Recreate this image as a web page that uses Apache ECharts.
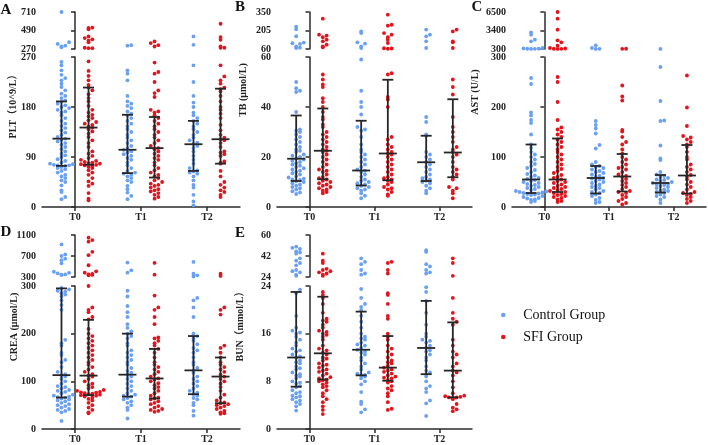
<!DOCTYPE html>
<html><head><meta charset="utf-8">
<script src="https://cdn.jsdelivr.net/npm/echarts@6/dist/echarts.min.js"></script>
<style>html,body{margin:0;padding:0;background:#fff}#c{width:708px;height:445px}</style>
</head><body><div id="c"></div>
<script>
// ---------------- DATA ----------------
const categories = ['T0', 'T1', 'T2'];
const groupNames = ['Control Group', 'SFI Group'];

// A: PLT
const PLT_lowTicks = [0, 90, 180, 270];
const PLT_upTicks = [270, 490, 710];
const PLT_ctrl_T0 = [14, 18, 27, 30, 39, 45, 48, 52, 55, 58, 62, 65, 68, 70, 72, 74, 75, 75, 76, 77, 78, 80, 83, 86, 90, 93, 96, 100, 104, 108, 112, 115, 118, 121, 123, 126, 130, 134, 138, 142, 146, 150, 155, 160, 165, 170, 172, 175, 178, 180, 183, 186, 190, 192, 196, 200, 204, 210, 216, 222, 228, 232, 238, 246, 255, 261, 290, 300, 310, 330, 350, 710];
const PLT_sfi_T0 = [12, 15, 25, 38, 42, 46, 52, 58, 62, 66, 70, 72, 74, 75, 76, 77, 78, 79, 80, 81, 83, 85, 88, 92, 96, 100, 108, 115, 120, 126, 132, 136, 140, 143, 145, 148, 150, 153, 156, 160, 163, 166, 170, 175, 182, 190, 196, 203, 210, 215, 220, 228, 236, 245, 262, 280, 280, 285, 350, 370, 385, 400, 420, 505, 520, 525];
const PLT_ctrl_T1 = [14, 20, 26, 32, 38, 45, 48, 52, 55, 58, 60, 62, 65, 70, 75, 80, 85, 88, 92, 95, 98, 100, 103, 106, 110, 115, 120, 125, 130, 135, 140, 145, 150, 155, 160, 165, 168, 172, 178, 182, 186, 190, 200, 228, 240, 246, 310, 315];
const PLT_sfi_T1 = [15, 18, 22, 25, 28, 30, 32, 35, 38, 40, 42, 45, 48, 52, 55, 58, 62, 66, 70, 75, 80, 85, 88, 92, 96, 100, 104, 106, 110, 115, 120, 125, 130, 135, 140, 145, 150, 155, 160, 165, 170, 172, 175, 198, 205, 210, 225, 240, 243, 260, 300, 315, 340, 360];
const PLT_ctrl_T2 = [3, 10, 22, 35, 40, 48, 55, 60, 62, 64, 66, 70, 78, 85, 92, 100, 106, 110, 113, 116, 120, 125, 130, 135, 140, 145, 150, 155, 160, 165, 170, 180, 188, 200, 225, 255, 320, 420];
const PLT_sfi_T2 = [18, 22, 27, 30, 35, 40, 45, 55, 65, 78, 80, 82, 92, 95, 98, 100, 108, 115, 120, 122, 125, 130, 138, 148, 160, 168, 175, 180, 190, 200, 208, 212, 215, 222, 228, 235, 255, 285, 285, 300, 380, 412, 570];
const PLT_ctrl_stats = [[74, 123, 190], [61, 103, 166], [65, 113, 155]];   // [Q1, median, Q3]
const PLT_sfi_stats = [[76, 143, 215], [53, 106, 162], [78, 122, 213]];

// B: TB
const TB_lowTicks = [0, 20, 40, 60];
const TB_upTicks = [60, 205, 350];
const TB_ctrl_T0 = [5.2, 5.8, 6.3, 7, 7.5, 8, 8.5, 9, 9.5, 10, 10.3, 10.8, 11, 11.3, 11.8, 12.3, 13, 13.5, 14, 14.5, 15, 15.5, 16, 16.5, 17, 17.5, 18, 18.5, 19, 19.5, 20, 20.5, 21, 22, 22.5, 23, 24, 25, 26, 27, 28, 29, 30, 30.5, 31, 38, 46, 46.5, 47.5, 50, 68, 70, 80, 100, 105, 110, 160, 215, 235];
const TB_sfi_T0 = [5.5, 6, 6.5, 7, 7.5, 8, 8.5, 9, 9.5, 10, 10.5, 11, 11.5, 12, 13, 14, 14.5, 15, 16, 17, 18, 19, 20, 21, 22, 22.5, 23, 24, 25, 26, 27, 28, 29, 30, 32, 33, 35, 36, 38, 40, 42, 43.5, 48, 49, 51, 53, 73, 81, 94, 120, 133, 152, 165, 172, 298];
const TB_ctrl_T1 = [3.5, 4.5, 5.5, 6.5, 7, 7.5, 8, 8.5, 9, 9.5, 10, 10.5, 11, 12, 13, 14, 14.5, 15, 16, 17, 18, 19, 20, 21, 22, 23, 25, 28, 30.5, 31, 32, 37, 40, 42, 46.5, 59, 68, 81, 102, 112, 185, 198];
const TB_sfi_T1 = [4.5, 5, 6, 7, 7.5, 8, 9, 10, 10.5, 11, 11.5, 12, 13, 14, 15, 16, 17, 18, 19, 20, 21, 21.5, 22, 23, 24, 25, 27, 28, 40, 43, 44, 53, 53.5, 62, 64, 66, 107, 133, 152, 172, 185, 243, 250, 329];
const TB_ctrl_T2 = [5.5, 6.5, 7.5, 8.5, 9.5, 10, 10.5, 11, 11.5, 12, 13, 14, 15, 16, 17, 18, 19, 20, 21, 22, 28.5, 29, 34, 36, 68, 120, 159, 172, 212];
const TB_sfi_T2 = [3.5, 5.5, 6.5, 7.5, 8, 11, 12, 13, 14, 15, 16, 18, 20, 21, 22, 23, 24, 26, 28, 30, 32, 36, 45, 48, 51, 68, 112, 120, 198, 212];
const TB_ctrl_stats = [[10.4, 19.3, 36.6], [8.6, 14.6, 34.5], [10.4, 17.9, 28.5]];
const TB_sfi_stats = [[11.1, 22.5, 39.4], [10.7, 21.4, 50.9], [11.9, 21.8, 43.1]];

// C: AST
const AST_lowTicks = [0, 100, 200, 300];
const AST_upTicks = [300, 3400, 6500];
const AST_ctrl_T0 = [10, 12, 14, 15, 17, 18, 20, 22, 24, 25, 26, 27, 28, 29, 30, 31, 32, 34, 36, 38, 40, 42, 44, 46, 48, 50, 52, 54, 56, 58, 60, 63, 66, 70, 74, 78, 82, 86, 90, 95, 100, 105, 110, 118, 125, 145, 168, 174, 183, 189, 246, 258, 320, 330, 340, 350, 400, 468, 1585, 1862, 2700, 3093];
const AST_sfi_T0 = [10, 12, 15, 18, 20, 22, 24, 26, 28, 30, 32, 34, 36, 38, 40, 42, 45, 48, 50, 52, 55, 58, 60, 64, 68, 72, 76, 80, 85, 90, 95, 100, 105, 110, 115, 120, 125, 130, 135, 140, 145, 150, 155, 159, 174, 210, 250, 260, 320, 330, 340, 380, 468, 859, 1417, 1752, 3540, 5383, 6500];
const AST_ctrl_T1 = [8, 10, 14, 18, 22, 25, 28, 30, 32, 35, 38, 40, 42, 45, 48, 50, 52, 55, 57, 58, 60, 62, 65, 68, 70, 72, 75, 78, 80, 82, 85, 90, 117, 124, 147, 157, 164, 172, 320, 330, 468, 914];
const AST_sfi_T1 = [5, 8, 12, 16, 20, 24, 28, 30, 32, 36, 40, 44, 48, 52, 56, 60, 62, 65, 70, 75, 78, 80, 85, 90, 95, 100, 107, 115, 125, 130, 140, 151, 154, 213, 221, 243, 330, 340];
const AST_ctrl_T2 = [8, 15, 20, 22, 25, 28, 30, 32, 33, 35, 38, 40, 42, 44, 45, 46, 48, 50, 52, 54, 55, 58, 60, 62, 65, 70, 94, 97, 123, 172, 173, 212, 280, 320];
const AST_sfi_T2 = [8, 12, 16, 20, 24, 26, 28, 30, 35, 40, 45, 50, 55, 60, 64, 70, 75, 80, 85, 95, 100, 110, 120, 125, 130, 135, 139, 142, 162, 199, 263];
const AST_ctrl_stats = [[28, 55, 125], [27, 58, 82], [29, 48, 64]];
const AST_sfi_stats = [[30, 55, 137], [31, 61, 106], [27, 63, 124]];

// D: CREA
const CREA_lowTicks = [0, 100, 200, 300];
const CREA_upTicks = [300, 700, 1100];
const CREA_ctrl_T0 = [17, 35, 38, 40, 42, 45, 48, 50, 52, 55, 58, 60, 62, 64, 66, 67, 68, 70, 72, 75, 78, 80, 82, 85, 88, 90, 95, 100, 105, 110, 113, 115, 120, 130, 140, 145, 155, 160, 175, 180, 187, 250, 260, 270, 278, 282, 285, 288, 290, 293, 296, 340, 345, 350, 370, 380, 400, 560, 620, 650, 700, 730, 920];
const CREA_sfi_T0 = [33, 35, 40, 45, 50, 55, 60, 63, 66, 68, 70, 71, 72, 73, 74, 75, 76, 77, 78, 80, 82, 85, 88, 92, 95, 100, 105, 110, 112, 115, 120, 125, 130, 135, 140, 145, 150, 155, 160, 165, 170, 175, 180, 185, 190, 195, 200, 210, 230, 235, 245, 250, 255, 300, 332, 340, 350, 360, 383, 409, 524, 716, 780, 972, 1004, 1050];
const CREA_ctrl_T1 = [22, 40, 45, 50, 55, 58, 62, 65, 68, 70, 72, 75, 80, 85, 90, 95, 100, 105, 110, 114, 118, 122, 128, 135, 140, 145, 150, 155, 160, 165, 175, 180, 190, 195, 200, 205, 212, 220, 235, 245, 258, 278, 290, 383, 428, 575];
const CREA_sfi_T1 = [36, 38, 40, 42, 45, 48, 52, 55, 58, 62, 64, 66, 70, 75, 80, 85, 88, 92, 96, 100, 104, 106, 110, 115, 120, 125, 130, 135, 140, 150, 160, 168, 175, 180, 185, 190, 192, 220, 235, 250, 255, 280, 345, 569];
const CREA_ctrl_T2 = [28, 38, 50, 55, 62, 65, 70, 73, 76, 80, 85, 90, 95, 100, 105, 110, 118, 123, 128, 135, 140, 150, 160, 165, 170, 178, 185, 190, 195, 200, 235, 255, 270, 275, 310, 332, 364, 588];
const CREA_sfi_T2 = [32, 33, 35, 38, 42, 45, 48, 50, 52, 54, 56, 60, 66, 72, 80, 88, 95, 100, 105, 110, 114, 120, 125, 130, 135, 140, 150, 160, 170, 175, 240, 250, 255, 320, 364];
const CREA_ctrl_stats = [[66, 113, 295], [68, 114, 200], [73, 123, 195]];
const CREA_sfi_stats = [[71, 112, 229], [64, 106, 168], [54, 110, 150]];

// E: BUN
const BUN_lowTicks = [0, 8, 16, 24];
const BUN_upTicks = [24, 42, 60];
const BUN_ctrl_T0 = [3.1, 3.8, 4.2, 4.5, 4.8, 5.0, 5.3, 5.5, 5.6, 6.0, 6.2, 6.5, 7.0, 7.2, 7.6, 7.8, 8.0, 8.5, 8.8, 9.0, 9.2, 9.5, 10.0, 10.2, 10.5, 11.0, 11.2, 11.5, 12.0, 12.2, 12.5, 13.0, 13.2, 13.5, 14.0, 14.5, 15.0, 15.5, 16.0, 16.2, 16.5, 17.0, 19.0, 22.8, 23.4, 25, 26, 28, 29, 30, 34, 36, 38, 40, 44, 45, 46, 48, 49, 50];
const BUN_sfi_T0 = [2.5, 3.2, 3.8, 4.5, 5.0, 5.5, 6.0, 6.5, 7.0, 7.2, 7.5, 7.8, 8.0, 8.2, 8.3, 8.5, 8.7, 9.0, 9.3, 9.6, 9.8, 10.0, 10.3, 10.6, 10.8, 11.0, 11.5, 11.8, 12.0, 12.5, 12.8, 13.2, 13.5, 14.0, 15.0, 15.5, 15.8, 16.0, 16.3, 16.5, 17.0, 17.5, 18.0, 18.2, 18.5, 19.5, 21.0, 22.0, 22.5, 23.0, 25, 26, 27, 28, 29, 30, 31, 36, 38, 44];
const BUN_ctrl_T1 = [2.8, 3.3, 4.2, 4.6, 6.2, 7.5, 8.0, 8.5, 8.8, 9.0, 9.1, 9.3, 9.5, 10.0, 10.5, 11.0, 11.5, 12.0, 12.5, 12.8, 13.0, 13.3, 13.6, 14.0, 14.2, 14.5, 15.0, 15.2, 15.5, 16.0, 17.0, 18.0, 19.0, 20.0, 20.5, 21.0, 22.0, 23.5, 26, 27, 30, 35, 37, 40];
const BUN_sfi_T1 = [3.2, 3.4, 4.5, 5.5, 6.0, 6.5, 6.8, 7.2, 7.8, 8.0, 8.2, 8.5, 8.6, 8.8, 9.0, 9.3, 9.6, 9.8, 10.0, 10.3, 10.6, 11.0, 11.2, 11.5, 12.0, 12.5, 13.0, 13.5, 14.0, 15.0, 15.5, 16.0, 18.5, 19.0, 21.0, 22.5, 22.8, 27, 30, 36, 37];
const BUN_ctrl_T2 = [2.2, 4.3, 4.8, 6.2, 6.8, 7.2, 8.0, 8.8, 9.2, 9.5, 9.8, 10.5, 11.5, 12.0, 12.5, 13.0, 13.2, 13.6, 14.0, 14.5, 14.8, 15.0, 15.5, 16.0, 17.5, 19.5, 21.5, 23.0, 23.8, 27, 28, 30, 33, 35, 45.5, 47];
const BUN_sfi_T2 = [3.0, 3.3, 3.6, 4.2, 5.0, 5.2, 5.3, 5.3, 5.4, 5.5, 5.6, 6.0, 7.0, 8.0, 9.0, 9.5, 9.8, 10.5, 11.0, 12.0, 12.5, 13.0, 14.0, 15.0, 17.5, 18.0, 18.5, 19.5, 22.0, 25, 36, 40];
const BUN_ctrl_stats = [[7.1, 12.0, 23.0], [9.0, 13.3, 19.7], [9.2, 13.6, 21.5]];
const BUN_sfi_stats = [[8.3, 12.7, 22.2], [8.1, 10.3, 15.6], [5.3, 9.8, 17.9]];

// ---------------- LAYOUT ----------------
const rows = [
  { upTop: 12, upH: 37, lowTop: 57, lowH: 150 },
  { upTop: 235, upH: 42, lowTop: 286, lowH: 143 }
];
const panels = [
  { letter: 'A', title: 'PLT（10^9/L）', row: 0, left: 42, width: 198, low: PLT_lowTicks, up: PLT_upTicks,
    ctrl: [PLT_ctrl_T0, PLT_ctrl_T1, PLT_ctrl_T2], sfi: [PLT_sfi_T0, PLT_sfi_T1, PLT_sfi_T2],
    cs: PLT_ctrl_stats, ss: PLT_sfi_stats, nx: 13, ny: 104, lx: 6, ly: 10 },
  { letter: 'B', title: 'TB (μmol/L)', row: 0, left: 277, width: 195, low: TB_lowTicks, up: TB_upTicks,
    ctrl: [TB_ctrl_T0, TB_ctrl_T1, TB_ctrl_T2], sfi: [TB_sfi_T0, TB_sfi_T1, TB_sfi_T2],
    cs: TB_ctrl_stats, ss: TB_sfi_stats, nx: 243, ny: 90, lx: 240, ly: 7 },
  { letter: 'C', title: 'AST (U/L)', row: 0, left: 512, width: 194, low: AST_lowTicks, up: AST_upTicks,
    ctrl: [AST_ctrl_T0, AST_ctrl_T1, AST_ctrl_T2], sfi: [AST_sfi_T0, AST_sfi_T1, AST_sfi_T2],
    cs: AST_ctrl_stats, ss: AST_sfi_stats, nx: 475, ny: 92, lx: 477, ly: 7 },
  { letter: 'D', title: 'CREA (μmol/L)', row: 1, left: 42, width: 198, low: CREA_lowTicks, up: CREA_upTicks,
    ctrl: [CREA_ctrl_T0, CREA_ctrl_T1, CREA_ctrl_T2], sfi: [CREA_sfi_T0, CREA_sfi_T1, CREA_sfi_T2],
    cs: CREA_ctrl_stats, ss: CREA_sfi_stats, nx: 14, ny: 327, lx: 6, ly: 232 },
  { letter: 'E', title: 'BUN（mmol/L）', row: 1, left: 277, width: 195, low: BUN_lowTicks, up: BUN_upTicks,
    ctrl: [BUN_ctrl_T0, BUN_ctrl_T1, BUN_ctrl_T2], sfi: [BUN_sfi_T0, BUN_sfi_T1, BUN_sfi_T2],
    cs: BUN_ctrl_stats, ss: BUN_sfi_stats, nx: 240, ny: 324, lx: 240, ly: 233 }
];

const COLORS = ['#6aa0f2', '#e3141c'];
const FONT = '"Liberation Serif", "Times New Roman", "Noto Sans CJK SC", serif';
const AXC = '#2b2b2b';
const GROUP_SHIFT = 0.205;   // category units
const ROW_PX = 4.6, DOT_DX_PX = 3.8;

function swarm(vals, center, pxPerVal, pxPerX, vmin) {
  const sorted = vals.slice().sort((a, b) => a - b);
  const rowsCount = {};
  return sorted.map(v => {
    const r = Math.round((v - vmin) * pxPerVal / ROW_PX);
    const k = rowsCount[r] || 0;
    rowsCount[r] = k + 1;
    const step = k === 0 ? 0 : (k % 2 === 1 ? Math.ceil(k / 2) : -Math.ceil(k / 2));
    return [center + step * DOT_DX_PX / pxPerX, v];
  });
}

const grid = [], xAxis = [], yAxis = [], series = [], graphic = [];
const axisLine = { show: true, lineStyle: { color: AXC, width: 1.5 } };
const axisTick = { show: true, length: 4, lineStyle: { color: AXC, width: 1.5 } };
const axisLabel = { fontFamily: FONT, fontWeight: 'bold', fontSize: 10, color: '#222', margin: 6,
  formatter: v => String(v) };

panels.forEach((p, i) => {
  const R = rows[p.row];
  grid.push({ left: p.left, top: R.upTop, width: p.width, height: R.upH, outerBoundsMode: 'none' });
  grid.push({ left: p.left, top: R.lowTop, width: p.width, height: R.lowH, outerBoundsMode: 'none' });
  const gU = 2 * i, gL = 2 * i + 1;
  xAxis.push({ type: 'value', gridIndex: gU, min: -0.5, max: 2.5, show: false });
  xAxis.push({ type: 'value', gridIndex: gL, min: -0.5, max: 2.5, show: false });
  xAxis.push({ type: 'category', gridIndex: gL, data: categories, position: 'bottom', boundaryGap: true,
    axisLine: Object.assign({ onZero: false }, axisLine),
    axisTick: Object.assign({ alignWithLabel: true }, axisTick),
    axisLabel: { fontFamily: FONT, fontWeight: 'bold', fontSize: 10, color: '#222', margin: 5 },
    splitLine: { show: false } });
  const lo = p.low, up = p.up;
  yAxis.push({ type: 'value', gridIndex: gU, min: up[0], max: up[up.length - 1], interval: up[1] - up[0],
    axisLine, axisTick, axisLabel, splitLine: { show: false } });
  yAxis.push({ type: 'value', gridIndex: gL, min: lo[0], max: lo[lo.length - 1], interval: lo[1] - lo[0],
    axisLine, axisTick, axisLabel, splitLine: { show: false } });

  const brk = lo[lo.length - 1];
  const pxX = p.width / 3;
  const pxLow = R.lowH / (brk - lo[0]);
  const pxUp = R.upH / (up[up.length - 1] - up[0]);
  [p.ctrl, p.sfi].forEach((groups, gi) => {
    let lowData = [], upData = [];
    groups.forEach((vals, t) => {
      const c = t + (gi === 0 ? -GROUP_SHIFT : GROUP_SHIFT);
      lowData = lowData.concat(swarm(vals.filter(v => v <= brk), c, pxLow, pxX, lo[0]));
      upData = upData.concat(swarm(vals.filter(v => v > brk), c, pxUp, pxX, up[0]));
    });
    const common = { type: 'scatter', name: groupNames[gi], symbol: 'circle', symbolSize: 3.8,
      itemStyle: { color: COLORS[gi], opacity: 1 }, silent: true, z: 2 };
    series.push(Object.assign({}, common, { xAxisIndex: 3 * i + 1, yAxisIndex: gL, data: lowData }));
    series.push(Object.assign({}, common, { xAxisIndex: 3 * i, yAxisIndex: gU, data: upData }));
  });
  const ebData = [];
  p.cs.forEach((s, t) => ebData.push([t - GROUP_SHIFT, s[0], s[1], s[2]]));
  p.ss.forEach((s, t) => ebData.push([t + GROUP_SHIFT, s[0], s[1], s[2]]));
  series.push({
    type: 'custom', name: 'errbar', xAxisIndex: 3 * i + 1, yAxisIndex: gL, data: ebData, z: 5, silent: true,
    renderItem: function (params, api) {
      const x = api.value(0);
      const pT = api.coord([x, api.value(3)]), pB = api.coord([x, api.value(1)]), pM = api.coord([x, api.value(2)]);
      const cx = pM[0];
      const st = { stroke: '#262626', lineWidth: 1.8 };
      return { type: 'group', children: [
        { type: 'line', shape: { x1: cx, y1: pT[1], x2: cx, y2: pB[1] }, style: st },
        { type: 'line', shape: { x1: cx - 5.5, y1: pT[1], x2: cx + 5.5, y2: pT[1] }, style: st },
        { type: 'line', shape: { x1: cx - 5.5, y1: pB[1], x2: cx + 5.5, y2: pB[1] }, style: st },
        { type: 'line', shape: { x1: cx - 9, y1: pM[1], x2: cx + 9, y2: pM[1] }, style: st }
      ] };
    }
  });
  graphic.push({ type: 'text', x: p.nx, y: p.ny, rotation: Math.PI / 2,
    style: { text: p.title, fontFamily: FONT, fontWeight: 'bold', fontSize: 10, fill: '#222',
      textAlign: 'center', textVerticalAlign: 'middle' } });
  graphic.push({ type: 'text', x: p.lx, y: p.ly,
    style: { text: p.letter, fontFamily: FONT, fontWeight: 'bold', fontSize: 15, fill: '#111',
      textAlign: 'center', textVerticalAlign: 'middle' } });
});

const chart = echarts.init(document.getElementById('c'), null, { renderer: 'canvas' });
chart.setOption({
  animation: false,
  backgroundColor: '#fff',
  grid, xAxis, yAxis, series, graphic,
  legend: {
    data: groupNames, orient: 'vertical', left: 496, top: 303, icon: 'circle',
    itemWidth: 30, itemHeight: 4.5, itemGap: 8,
    textStyle: { fontFamily: FONT, fontSize: 14, color: '#111' }
  }
});
</script></body></html>
